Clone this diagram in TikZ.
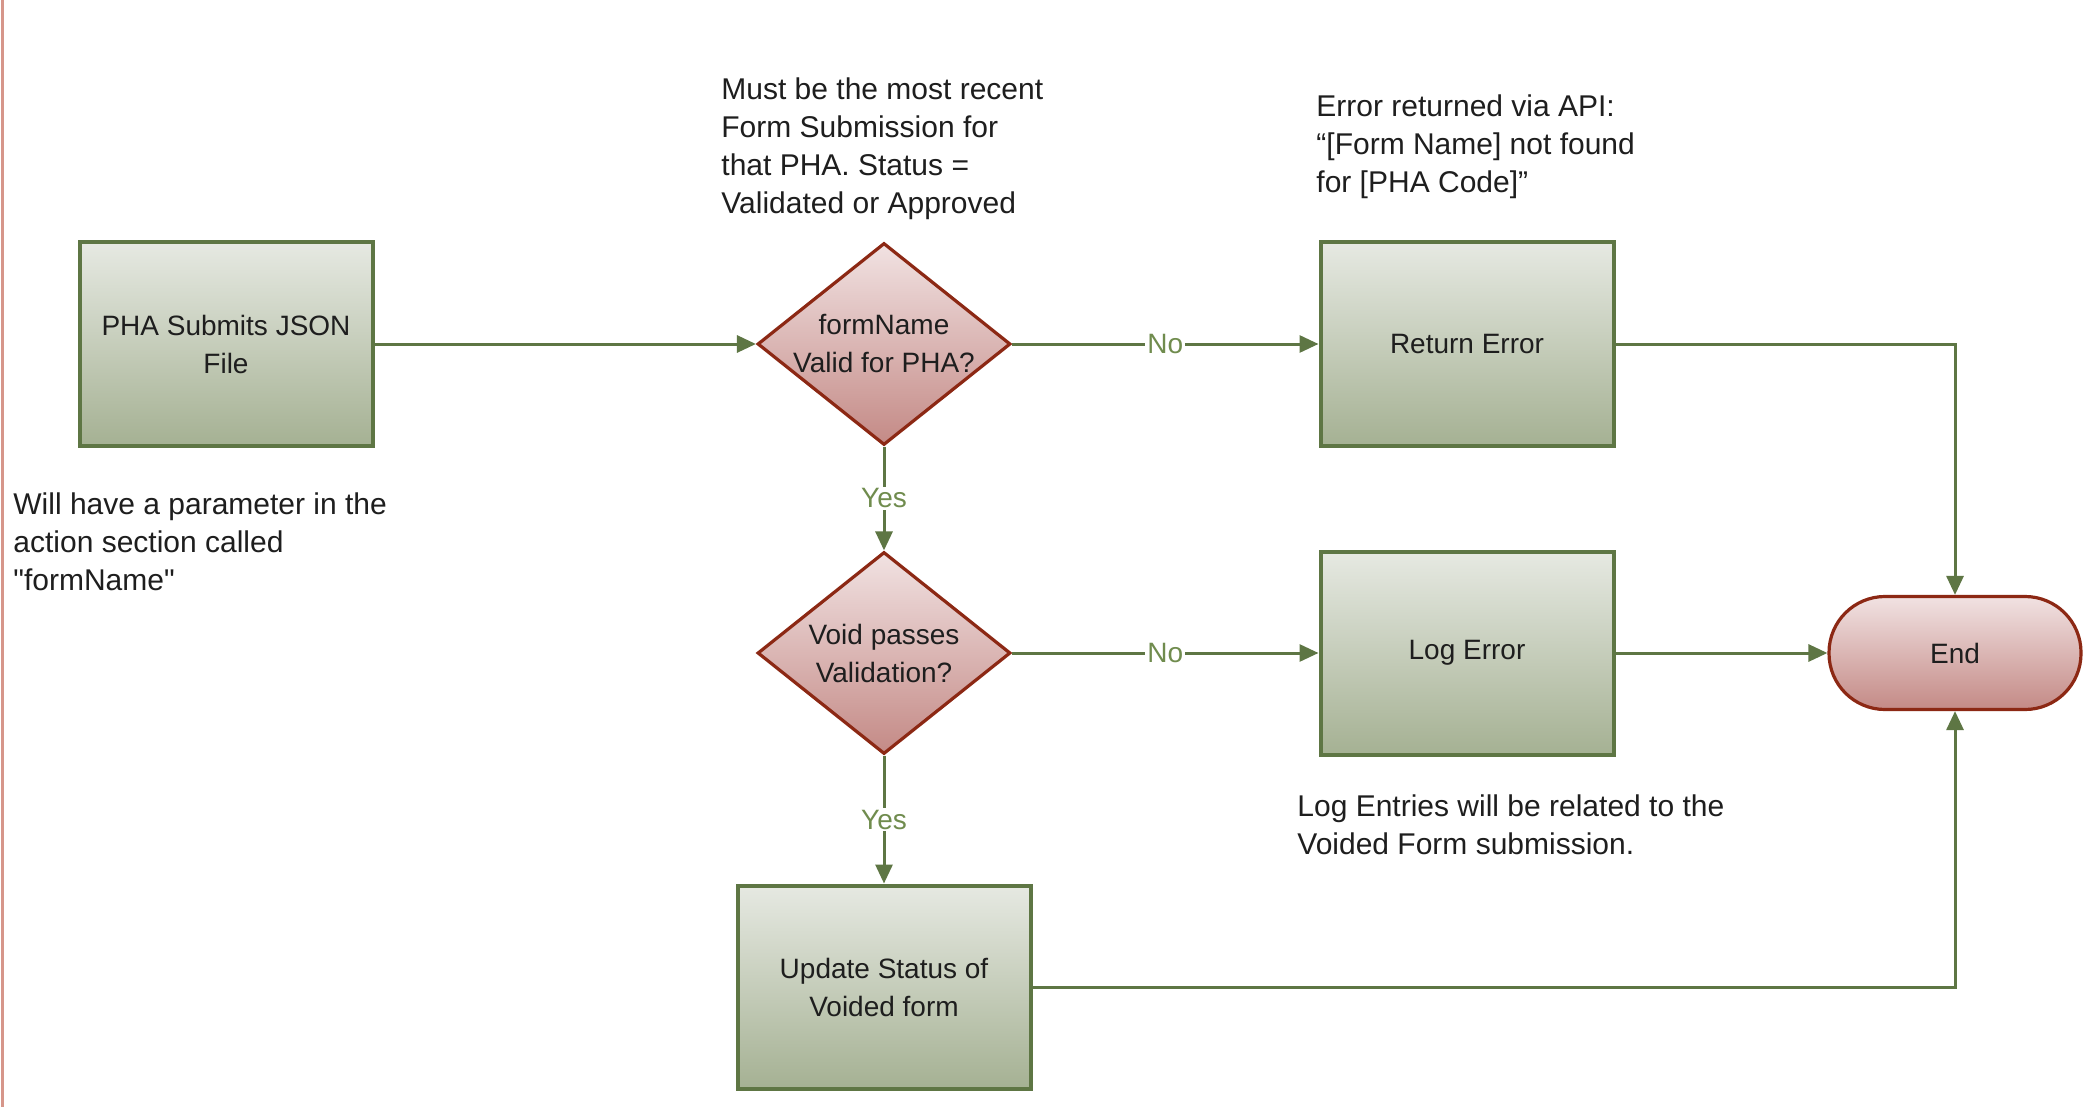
\documentclass[tikz,border=0pt]{standalone}
\usepackage{fontspec}
\setmainfont{Liberation Sans}
\newfontfamily\plainsans{Liberation Sans}
\usetikzlibrary{shapes.geometric,arrows.meta}
\definecolor{gline}{RGB}{94,118,68}
\definecolor{gtop}{RGB}{230,233,226}
\definecolor{gbot}{RGB}{165,177,147}
\definecolor{rline}{RGB}{140,40,20}
\definecolor{rtop}{RGB}{241,226,226}
\definecolor{rbot}{RGB}{196,138,134}
\definecolor{lbl}{RGB}{112,140,78}
\definecolor{edge}{RGB}{214,150,138}
\definecolor{txt}{RGB}{30,30,30}
\tikzset{
  procbox/.style={draw=gline, line width=2pt, top color=gtop, bottom color=gbot,
    minimum width=146.5pt, minimum height=101.5pt, align=center,
    font=\fontsize{14}{19}\selectfont, text=txt, inner sep=0pt},
  decbox/.style={diamond, draw=rline, line width=1.6pt, top color=rtop, bottom color=rbot,
    minimum width=126.5pt, minimum height=101pt, inner sep=0pt},
  dectext/.style={align=center, font=\fontsize{14}{19}\selectfont, text=txt, inner sep=0pt},
  termbox/.style={draw=rline, line width=1.6pt, top color=rtop, bottom color=rbot,
    rounded corners=28pt, minimum width=126pt, minimum height=56.5pt,
    font=\fontsize{14}{19}\selectfont, text=txt, inner sep=0pt},
  note/.style={align=left, anchor=north west, inner sep=0pt,
    font=\fontsize{15}{19}\selectfont, text=txt},
  conn/.style={draw=gline, line width=1.5pt, -{Triangle[length=9.5pt,width=8.5pt]}},
  elabel/.style={fill=white, text=lbl, inner sep=1pt, font=\fontsize{14}{16}\selectfont}
}
\begin{document}
\begin{tikzpicture}[x=0.5pt,y=-0.5pt]
\useasboundingbox (0,0) rectangle (2086,1107);
\fill[white] (0,0) rectangle (2086,1107);
\draw[edge, line width=1.5pt] (2,0) -- (2,1107);

\node[procbox] (pha) at (226,344) {PHA Submits JSON\\File};
\node[decbox] (d1) at (884,344) {};
\node[dectext] (d1t) at (d1) {formName\\Valid for PHA?};
\node[procbox] (ret) at (1467,344) {Return Error};
\node[decbox] (d2) at (884,653) {};
\node[dectext] (d2t) at (d2) {Void passes\\Validation?};
\node[procbox] (log) at (1467,653) {Log Error};
\node[procbox] (upd) at (884,987) {Update Status of\\Voided form};
\node[termbox] (end) at (1955,653) {End};

\node[note] (n1) at (721,77) {Must be the most recent\\Form Submission for\\that PHA. Status =\\Validated or Approved};
\node[note] (n2) at (1316,94) {Error returned via API:\\“[Form Name] not found\\for [PHA Code]”};
\node[note] (n3) at (13,492) {Will have a parameter in the\\action section called\\{\plainsans "formName"}};
\node[note] (n4) at (1297,794) {Log Entries will be related to the\\Voided Form submission.};

\draw[conn] (pha.east) -- (d1.west);
\draw[conn] (d1.east) -- node[elabel] (l1) {No} (ret.west);
\draw[conn] (d1.south) -- node[elabel] (l2) {Yes} (d2.north);
\draw[conn] (d2.east) -- node[elabel] (l3) {No} (log.west);
\draw[conn] (d2.south) -- node[elabel] (l4) {Yes} (upd.north);
\draw[conn] (ret.east) -| (end.north);
\draw[conn] (log.east) -- (end.west);
\draw[conn] (upd.east) -| (end.south);
\end{tikzpicture}
\end{document}
